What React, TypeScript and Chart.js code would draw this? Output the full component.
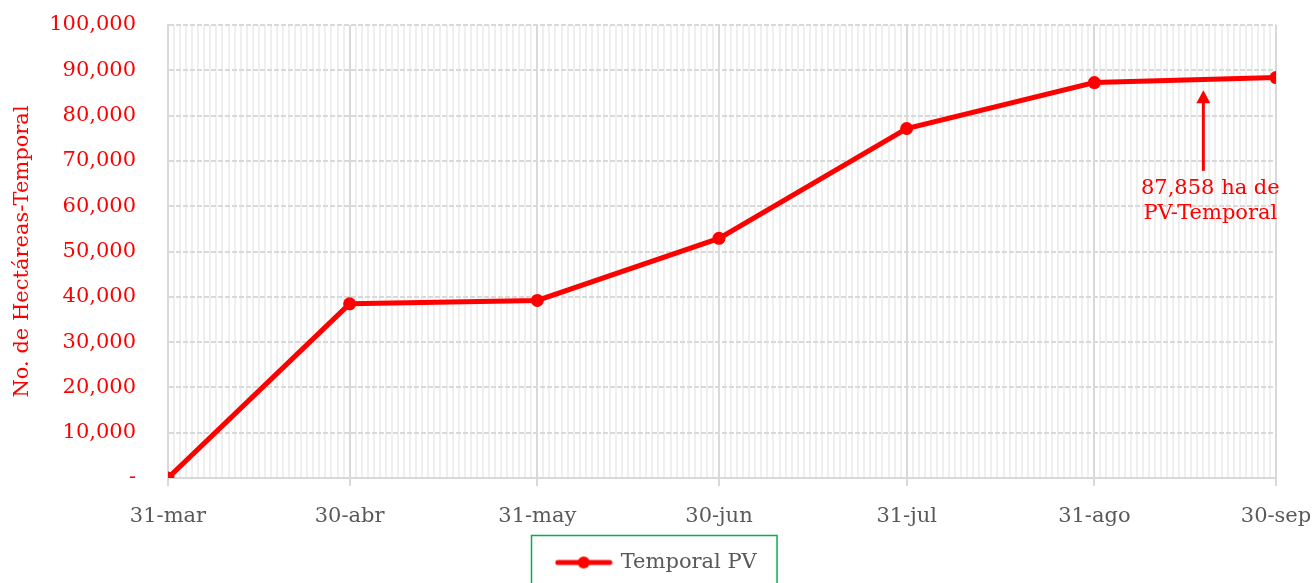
import React, { useEffect, useRef } from "react";
import { Chart, registerables } from "chart.js";

Chart.register(...registerables);

const dates = ["2023-03-31", "2023-04-30", "2023-05-31", "2023-06-30", "2023-07-31", "2023-08-31", "2023-09-30"];
const xLabels = ["31-mar", "30-abr", "31-may", "30-jun", "31-jul", "31-ago", "30-sep"];
const temporalPV = [0, 38450, 39200, 52900, 77150, 87300, 88400];
const seriesName = "Temporal PV";
const yTitle = "No. de Hectáreas-Temporal";
const annotationLines = ["87,858 ha de", "PV-Temporal"];
const annotationDate = "2023-09-18";
const annotationArrowFrom = 67800;
const annotationArrowTo = 85600;
const annotationTextValue = 64000;

const DAY = 86400000;
const start = Date.parse(dates[0]);
const dayOf = (d: string) => Math.round((Date.parse(d) - start) / DAY);
const dayOffsets = dates.map(dayOf);
const lastDay = dayOffsets[dayOffsets.length - 1];

const RED = "#ff0000";
const FONT = "'DejaVu Serif', serif";

export default function App() {
  const ref = useRef<HTMLCanvasElement>(null);
  useEffect(() => {
    if (!ref.current) return;
    const mk = document.createElement("canvas");
    mk.width = 58;
    mk.height = 14;
    const mctx = mk.getContext("2d")!;
    mctx.strokeStyle = RED;
    mctx.lineWidth = 5;
    mctx.lineCap = "round";
    mctx.beginPath();
    mctx.moveTo(3, 7);
    mctx.lineTo(55, 7);
    mctx.stroke();
    mctx.fillStyle = RED;
    mctx.beginPath();
    mctx.arc(29, 7, 6, 0, Math.PI * 2);
    mctx.fill();

    const annotationPlugin = {
      id: "annot",
      afterDatasetsDraw(chart: any) {
        const { ctx, scales } = chart;
        const x = scales.x.getPixelForValue(dayOf(annotationDate));
        const y1 = scales.y.getPixelForValue(annotationArrowFrom);
        const y2 = scales.y.getPixelForValue(annotationArrowTo);
        ctx.save();
        ctx.strokeStyle = RED;
        ctx.fillStyle = RED;
        ctx.lineWidth = 3;
        ctx.beginPath();
        ctx.moveTo(x, y1);
        ctx.lineTo(x, y2 + 10);
        ctx.stroke();
        ctx.beginPath();
        ctx.moveTo(x, y2);
        ctx.lineTo(x - 7, y2 + 13);
        ctx.lineTo(x + 7, y2 + 13);
        ctx.closePath();
        ctx.fill();
        ctx.font = `21px ${FONT}`;
        ctx.textAlign = "center";
        ctx.textBaseline = "middle";
        const ty = scales.y.getPixelForValue(annotationTextValue);
        annotationLines.forEach((t, i) => ctx.fillText(t, x + 7, ty + i * 25));
        ctx.restore();
      },
    };

    const legendBoxPlugin = {
      id: "legendBox",
      afterDraw(chart: any) {
        const lg = chart.legend;
        if (!lg || !lg.legendHitBoxes || !lg.legendHitBoxes.length) return;
        const hb = lg.legendHitBoxes[0];
        const { ctx } = chart;
        ctx.save();
        ctx.strokeStyle = "#00b050";
        ctx.lineWidth = 1.5;
        const cy = hb.top + hb.height / 2;
        ctx.strokeRect(Math.round(hb.left - 26) + 0.5, Math.round(cy - 28) + 0.5, hb.width + 46, 80);
        ctx.restore();
      },
    };

    const chart = new Chart(ref.current, {
      type: "line",
      data: {
        datasets: [
          {
            label: seriesName,
            data: dayOffsets.map((d, i) => ({ x: d, y: temporalPV[i] })),
            borderColor: RED,
            backgroundColor: RED,
            borderWidth: 5,
            pointRadius: 6.5,
            pointBackgroundColor: RED,
            pointBorderColor: RED,
            pointBorderWidth: 0,
            tension: 0,
          },
        ],
      },
      options: {
        animation: false,
        responsive: true,
        maintainAspectRatio: false,
        layout: { padding: { top: 25, right: 0, left: 0, bottom: 0 } },
        plugins: {
          tooltip: { enabled: false },
          legend: {
            position: "bottom",
            labels: {
              usePointStyle: true,
              pointStyle: mk as any,
              pointStyleWidth: 53,
              color: "#595959",
              font: { family: FONT, size: 21 },
              padding: 10,
            },
          },
        },
        scales: {
          x: {
            type: "linear",
            min: 0,
            max: lastDay,
            afterBuildTicks: (s: any) => {
              s.ticks = dayOffsets.map((v) => ({ value: v }));
            },
            ticks: {
              autoSkip: false,
              maxRotation: 0,
              color: "#595959",
              font: { family: FONT, size: 21 },
              padding: 18,
              callback: (_v: any, i: number) => xLabels[i],
            },
            grid: { color: "#d9d9d9", lineWidth: 2, tickLength: 8, drawTicks: true },
            border: { color: "#d9d9d9", width: 2 },
            afterFit: (s: any) => {
              s.height = 64;
              s.paddingLeft = 0;
              s.paddingRight = 38;
            },
          },
          xMinor: {
            type: "linear",
            position: "bottom",
            min: 0,
            max: lastDay,
            afterBuildTicks: (s: any) => {
              const t = [];
              for (let d = 0; d <= lastDay; d++) t.push({ value: d });
              s.ticks = t;
            },
            ticks: { display: false, autoSkip: false },
            grid: {
              drawTicks: false,
              lineWidth: 2,
              color: (c: any) => (c.tick && dayOffsets.includes(c.tick.value) ? "rgba(0,0,0,0)" : "#efefef"),
            },
            border: { display: false },
            afterFit: (s: any) => {
              s.height = 0;
              s.paddingLeft = 0;
              s.paddingRight = 0;
            },
          },
          y: {
            min: 0,
            max: 100000,
            ticks: {
              stepSize: 10000,
              color: RED,
              font: { family: FONT, size: 21 },
              padding: 32,
              callback: (v: any) => (v === 0 ? "-" : Number(v).toLocaleString("en-US")),
            },
            grid: { color: "#d9d9d9", lineWidth: 2, drawTicks: false },
            border: { color: "#d9d9d9", width: 2, dash: [5, 2] },
            title: {
              display: true,
              text: yTitle,
              color: RED,
              font: { family: FONT, size: 21 },
              padding: { top: 10, bottom: 0 },
            },
            afterFit: (s: any) => {
              s.width = 168;
              s.paddingTop = 0;
              s.paddingBottom = 0;
            },
          },
        },
      },
      plugins: [annotationPlugin, legendBoxPlugin],
    } as any);
    return () => chart.destroy();
  }, []);
  return (
    <div style={{ position: "fixed", left: 0, top: 0, width: 1314, height: 583, background: "#fff" }}>
      <canvas ref={ref} />
    </div>
  );
}
